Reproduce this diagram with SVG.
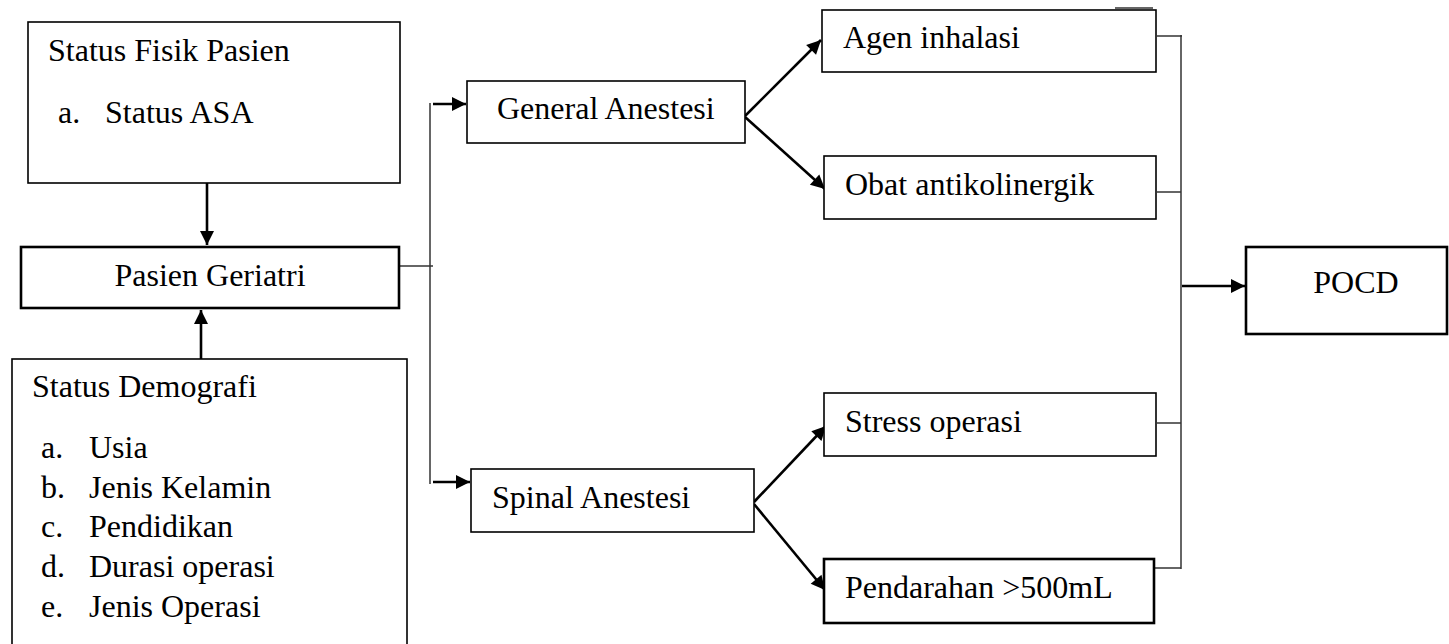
<svg xmlns="http://www.w3.org/2000/svg" width="1449" height="644" viewBox="0 0 1449 644">
  <style>
    .box { fill: #ffffff; stroke: #000000; stroke-width: 1.6; }
    .thick { stroke-width: 2.6; }
    .t { font-family: "Liberation Serif", "Times New Roman", serif; font-size: 32px; fill: #000000; }
    .c { text-anchor: middle; }
    .arrow { stroke: #000000; stroke-width: 2.6; fill: none; }
    .thin { stroke: #333333; stroke-width: 1.5; fill: none; }
  </style>
  <defs>
    <marker id="ah" markerUnits="userSpaceOnUse" markerWidth="16" markerHeight="16" viewBox="0 0 16 16" refX="15" refY="8" orient="auto">
      <path d="M1,1 L15,8 L1,15 Z" fill="#000000"/>
    </marker>
  </defs>
  <rect width="1449" height="644" fill="#ffffff"/>

  <g id="connectors">
    <line class="arrow" x1="207" y1="183" x2="207" y2="245" marker-end="url(#ah)"/>
    <line class="arrow" x1="201" y1="359" x2="201" y2="310" marker-end="url(#ah)"/>
    <line class="thin" x1="399" y1="266" x2="433" y2="266"/>
    <line class="thin" x1="430" y1="103" x2="430" y2="484"/>
    <line class="arrow" x1="433" y1="104" x2="466" y2="104" marker-end="url(#ah)"/>
    <line class="arrow" x1="433" y1="482" x2="470" y2="482" marker-end="url(#ah)"/>
    <line class="arrow" x1="745" y1="116" x2="821" y2="40" marker-end="url(#ah)"/>
    <line class="arrow" x1="745" y1="117" x2="825" y2="189" marker-end="url(#ah)"/>
    <line class="arrow" x1="754" y1="502" x2="826" y2="426" marker-end="url(#ah)"/>
    <line class="arrow" x1="754" y1="504" x2="825" y2="590" marker-end="url(#ah)"/>
    <line class="thin" x1="1157" y1="36" x2="1182" y2="36"/>
    <line class="thin" x1="1157" y1="192" x2="1181" y2="192"/>
    <line class="thin" x1="1157" y1="423" x2="1181" y2="423"/>
    <line class="thin" x1="1155" y1="568" x2="1181" y2="568"/>
    <line class="thin" x1="1181" y1="35" x2="1181" y2="569"/>
    <line class="arrow" x1="1182" y1="286" x2="1245" y2="286" marker-end="url(#ah)"/>
    <line class="thin" x1="1115" y1="8" x2="1153" y2="8" stroke="#666666"/>
  </g>

  <g id="status-fisik">
    <rect class="box" x="28" y="22" width="372" height="161"/>
    <text class="t" x="48" y="61">Status Fisik Pasien</text>
    <text class="t" x="58" y="123">a.</text>
    <text class="t" x="105" y="123">Status ASA</text>
  </g>

  <g id="pasien-geriatri">
    <rect class="box thick" x="21" y="247" width="378" height="61"/>
    <text class="t c" x="210" y="286">Pasien Geriatri</text>
  </g>

  <g id="status-demografi">
    <rect class="box" x="12" y="359" width="395" height="300"/>
    <text class="t" x="32" y="397">Status Demografi</text>
    <text class="t" x="41" y="458">a.</text>
    <text class="t" x="89" y="458">Usia</text>
    <text class="t" x="41" y="498">b.</text>
    <text class="t" x="89" y="498">Jenis Kelamin</text>
    <text class="t" x="41" y="537">c.</text>
    <text class="t" x="89" y="537">Pendidikan</text>
    <text class="t" x="41" y="577">d.</text>
    <text class="t" x="89" y="577">Durasi operasi</text>
    <text class="t" x="41" y="617">e.</text>
    <text class="t" x="89" y="617">Jenis Operasi</text>
  </g>

  <g id="general-anestesi">
    <rect class="box" x="467" y="81" width="278" height="62"/>
    <text class="t" x="497" y="119">General Anestesi</text>
  </g>

  <g id="spinal-anestesi">
    <rect class="box" x="471" y="469" width="283" height="63"/>
    <text class="t" x="492" y="508">Spinal Anestesi</text>
  </g>

  <g id="agen-inhalasi">
    <rect class="box" x="822" y="10" width="334" height="62"/>
    <text class="t" x="843" y="48">Agen inhalasi</text>
  </g>

  <g id="obat-antikolinergik">
    <rect class="box" x="824" y="156" width="332" height="63"/>
    <text class="t" x="845" y="195">Obat antikolinergik</text>
  </g>

  <g id="stress-operasi">
    <rect class="box" x="824" y="393" width="332" height="63"/>
    <text class="t" x="845" y="432">Stress operasi</text>
  </g>

  <g id="pendarahan">
    <rect class="box thick" x="824" y="559" width="330" height="64"/>
    <text class="t" x="845" y="598">Pendarahan &gt;500mL</text>
  </g>

  <g id="pocd">
    <rect class="box thick" x="1246" y="247" width="201" height="87"/>
    <text class="t c" x="1356" y="293">POCD</text>
  </g>
</svg>
